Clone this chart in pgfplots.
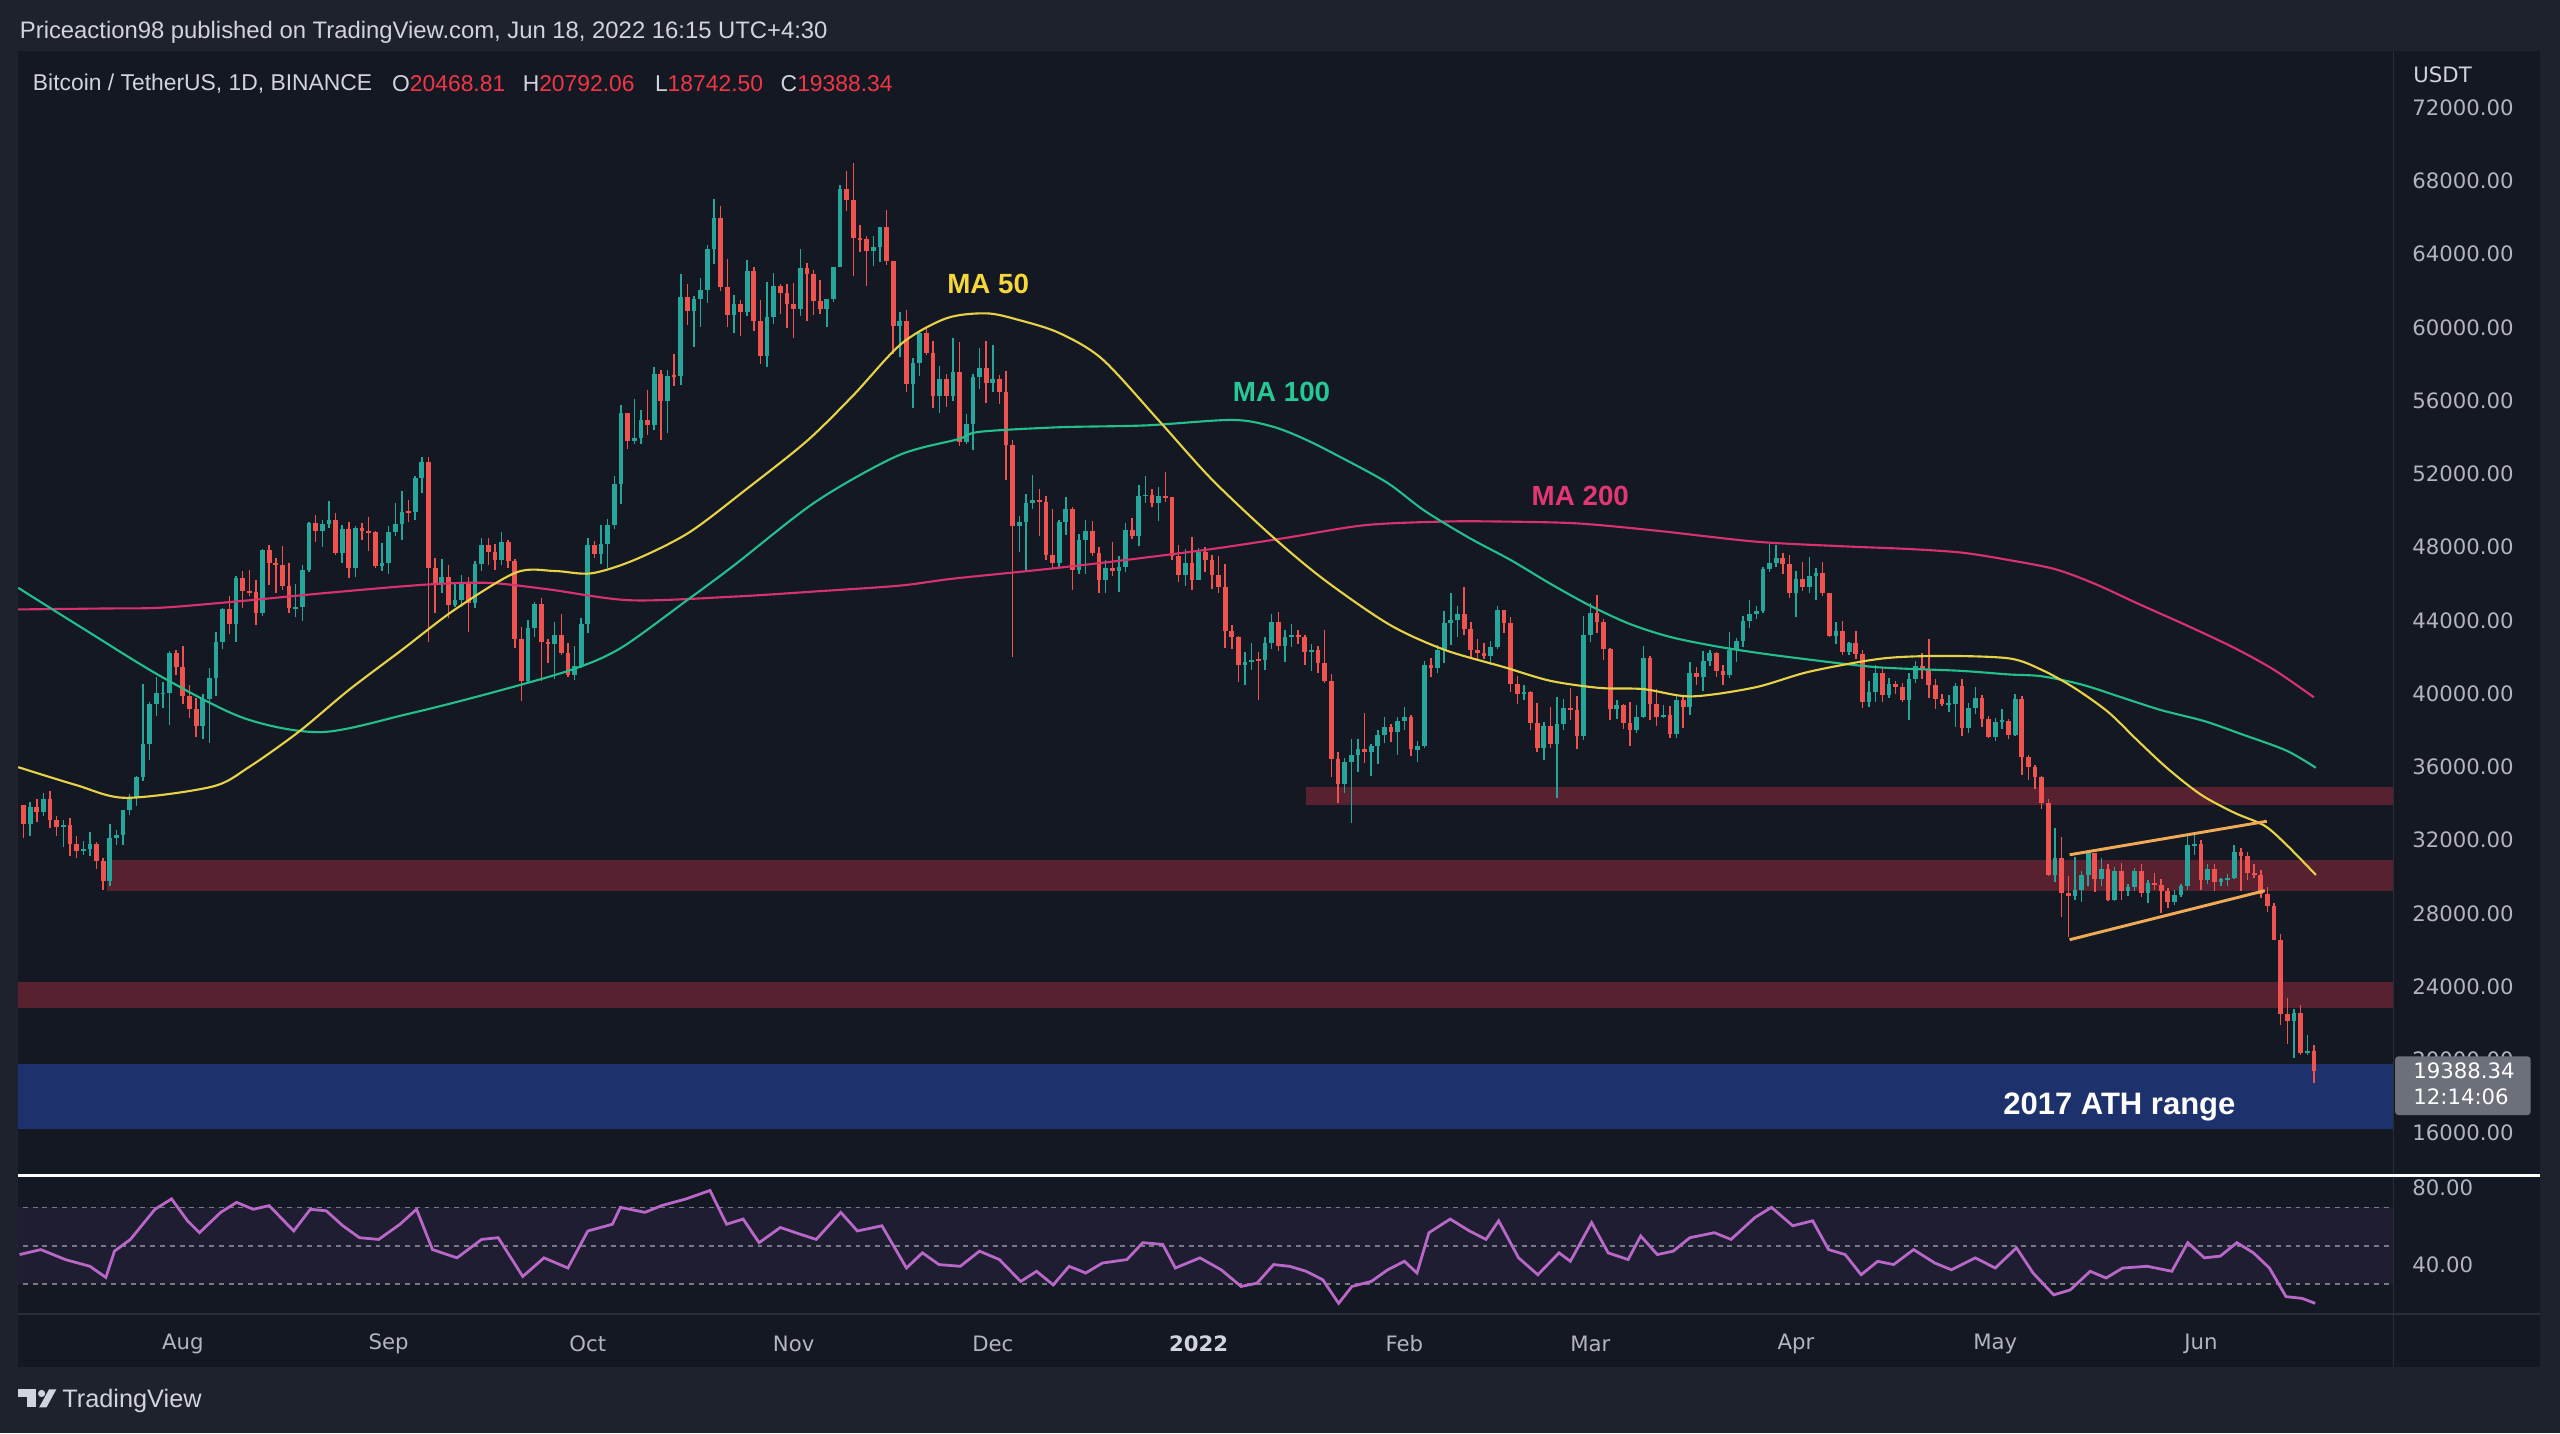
\documentclass[border=0pt]{standalone}
\usepackage{fontspec}
\setmainfont{Liberation Sans}
\newfontfamily\dv{DejaVu Sans}
\usepackage{pgfplots}
\usepackage{pgfplotstable}
\pgfplotsset{compat=1.18}
\newcommand\fs[1]{\fontsize{#1}{#1}\selectfont}

\definecolor{outerbg}{RGB}{30,34,45}
\definecolor{panelbg}{RGB}{20,24,35}
\definecolor{border}{RGB}{42,46,57}
\definecolor{tvtext}{RGB}{209,212,220}
\definecolor{tvtick}{RGB}{178,181,190}
\definecolor{tvred}{RGB}{242,54,69}
\definecolor{upc}{RGB}{38,166,154}
\definecolor{downc}{RGB}{239,83,80}
\definecolor{ma50c}{RGB}{230,210,70}
\definecolor{ma100c}{RGB}{36,190,140}
\definecolor{ma200c}{RGB}{215,50,110}
\definecolor{ma50t}{RGB}{245,215,60}
\definecolor{ma100t}{RGB}{40,200,150}
\definecolor{ma200t}{RGB}{225,55,115}
\definecolor{zonered}{RGB}{88,33,48}
\definecolor{zoneblue}{RGB}{29,50,108}
\definecolor{chan}{RGB}{240,170,85}
\definecolor{rsic}{RGB}{186,104,200}
\definecolor{rsiband}{RGB}{30,29,50}
\definecolor{rsidash}{RGB}{120,123,134}
\definecolor{pricebox}{RGB}{108,112,123}

% BTCUSDT daily, day 0 = 1 Aug 2021
\pgfplotstableread{
d o h l c
-24 33900 33920 32100 32880
-23 32880 34100 32250 33810
-22 33810 34260 33000 33510
-21 33510 34590 33300 34260
-20 34260 34680 32660 33090
-19 33090 33340 32200 32730
-18 32730 33110 31600 32820
-17 32820 33190 31130 31780
-16 31780 32250 31020 31390
-15 31390 31950 31170 31530
-14 31530 32430 31110 31780
-13 31780 31900 30400 30840
-12 30840 31050 29280 29790
-11 29790 32860 29480 32140
-10 32140 32580 31710 32290
-9 32290 33650 31760 33650
-8 33650 34500 33400 34280
-7 34280 35500 33880 35430
-6 35430 40550 35250 37270
-5 37270 39540 36400 39460
-4 39460 40900 38770 40010
-3 40010 40620 39200 40020
-2 40020 42320 38310 42240
-1 42240 42410 41000 41460
0 41460 42600 39420 39850
1 39850 40460 38690 39150
2 39150 39780 37640 38210
3 38210 39970 37510 39720
4 39720 41400 37330 40870
5 40870 43390 39850 42830
6 42830 44700 42450 44610
7 44610 45310 43260 43830
8 43830 46450 42840 46290
9 46290 46700 44700 45590
10 45590 46780 45350 45550
11 45550 46220 43770 44430
12 44430 47890 44250 47830
13 47830 48140 45950 47110
14 47110 47400 45520 47010
15 47010 48050 45660 45900
16 45900 47160 44380 44690
17 44690 46000 44200 44710
18 44710 47050 43950 46760
19 46760 49380 46620 49320
20 49320 49760 48280 48870
21 48870 49500 48000 49290
22 49290 50500 49030 49510
23 49510 49880 47600 47700
24 47700 49230 47120 48970
25 48970 49380 46320 46870
26 46870 49180 46360 49070
27 49070 49300 48370 48900
28 48900 49650 47800 48810
29 48810 48910 46850 46990
30 46990 48250 46700 47130
31 47130 49150 46510 48830
32 48830 50400 48630 49270
33 49270 51050 48400 49940
34 49940 50560 49380 49910
35 49910 51900 49500 51760
36 51760 52920 50970 52660
37 52660 52950 42840 46860
38 46860 47400 44410 46070
39 46070 47350 45510 46370
40 46370 47050 44130 44850
41 44850 45990 44720 45140
42 45140 46460 44740 46060
43 46060 46350 43370 44960
44 44960 47250 44680 47100
45 47100 48480 46720 48130
46 48130 48500 47050 47750
47 47750 48160 46750 47300
48 47300 48840 47040 48310
49 48310 48380 46850 47250
50 47250 47350 42500 43010
51 43010 43640 39600 40690
52 40690 44000 40570 43560
53 43560 44980 43100 44870
54 44870 45200 40680 42830
55 42830 42990 41650 42700
56 42700 43920 40800 43190
57 43190 44350 42100 42240
58 42240 42790 40920 41030
59 41030 42630 40750 41520
60 41520 44130 41410 43820
61 43820 48500 43290 48140
62 48140 48360 47430 47650
63 47650 49230 47100 48200
64 48200 49530 46890 49220
65 49220 51890 49000 51470
66 51470 55750 50380 55320
67 55320 55330 53360 53790
68 53790 56100 53620 53950
69 53950 55490 53660 54950
70 54950 56560 54110 54660
71 54660 57840 54420 57470
72 57470 57680 53880 56000
73 56000 57700 54250 57370
74 57370 58530 56820 57350
75 57350 62930 56850 61670
76 61670 62380 60150 60880
77 60880 61720 58960 61530
78 61530 62700 60000 62040
79 62040 64490 61320 64260
80 64260 67000 63480 65990
81 65990 66640 62000 62210
82 62210 63730 60000 60690
83 60690 61750 59680 61290
84 61290 61490 59510 60850
85 60850 63710 60650 63080
86 63080 63290 59820 60330
87 60330 61500 58000 58460
88 58460 62500 57820 60590
89 60590 62980 60170 62270
90 62270 62360 60720 61890
91 61890 62400 59950 61300
92 61300 62440 59400 61000
93 61000 64270 60620 63230
94 63230 63520 60380 62940
95 62940 63120 60680 61450
96 61450 62600 60720 61010
97 61010 61580 60050 61530
98 61530 63290 61370 63300
99 63300 67790 63290 67550
100 67550 68530 66380 66940
101 66940 69000 62820 64880
102 64880 65600 64100 64810
103 64810 65000 62250 64160
104 64160 64990 63360 64400
105 64400 65500 63580 65500
106 65500 66400 63400 63610
107 63610 63620 58570 60060
108 60060 60840 58370 60340
109 60340 60980 56470 56890
110 56890 58350 55600 58050
111 58050 59850 57350 59710
112 59710 60050 58470 58620
113 58620 59270 55610 56250
114 56250 57880 55320 57170
115 57170 57440 55660 56280
116 56280 59400 56000 57570
117 57570 59180 53500 53740
118 53740 55300 53610 54720
119 54720 57450 53330 57270
120 57270 58870 56660 57810
121 57810 59250 55880 56950
122 56950 59050 56460 57180
123 57180 57380 55840 56480
124 56480 57600 51680 53600
125 53600 53860 42000 49150
126 49150 49700 47730 49400
127 49400 50930 46750 50440
128 50440 51940 50060 50580
129 50580 51200 48600 50470
130 50470 50800 47320 47550
131 47550 50100 46850 47140
132 47140 49490 46930 49380
133 49380 50720 48650 50100
134 50100 50200 45670 46740
135 46740 48700 46550 48380
136 48380 49500 46550 48890
137 48890 49430 47540 47670
138 47670 48000 45500 46200
139 46200 47310 45520 46880
140 46880 48300 46400 46680
141 46680 47540 45560 46900
142 46900 49330 46630 48940
143 48940 49580 48420 48630
144 48630 51380 48050 50820
145 50820 51870 50410 50840
146 50840 51160 50190 50430
147 50430 51280 49410 50800
148 50800 52090 50450 50720
149 50720 50720 47310 47540
150 47540 48140 46100 46460
151 46460 47900 45900 47120
152 47120 48550 45680 46220
153 46220 47950 46210 47720
154 47720 47990 46650 47290
155 47290 47570 45700 46460
156 46460 47510 45500 45830
157 45830 47070 42500 43430
158 43430 43750 42420 43100
159 43100 43140 40610 41560
160 41560 42300 40500 41730
161 41730 42790 41270 41860
162 41860 42250 39650 41820
163 41820 43100 41270 42740
164 42740 44350 42450 43920
165 43920 44460 42310 42590
166 42590 43460 41730 43100
167 43100 43800 42570 43180
168 43180 43480 42690 43110
169 43110 43190 41540 42250
170 42250 42700 41250 42370
171 42370 42580 41140 41680
172 41680 43500 40570 40680
173 40680 41100 35440 36450
174 36450 36840 34010 35070
175 35070 36500 34600 36280
176 36280 37550 32930 36660
177 36660 37550 35700 36960
178 36960 38920 36230 36810
179 36810 37230 35510 37160
180 37160 38000 36160 37720
181 37720 38720 37300 38170
182 38170 38360 37350 37920
183 37920 38740 36630 38480
184 38480 39270 38020 38740
185 38740 38860 36590 36950
186 36950 37390 36250 37150
187 37150 41770 37030 41570
188 41570 41940 40920 41380
189 41380 42660 41120 42410
190 42410 44500 41660 43840
191 43840 45490 42670 44040
192 44040 44800 43110 44370
193 44370 45820 43200 43510
194 43510 43920 42000 42370
195 42370 43000 41770 42210
196 42210 42760 41870 42060
197 42060 42870 41570 42540
198 42540 44770 42430 44570
199 44570 44580 43330 43880
200 43880 44200 40070 40520
201 40520 40960 39450 40000
202 40000 40450 39640 40100
203 40100 40150 38000 38380
204 38380 39490 36800 37020
205 37020 38440 36350 38240
206 38240 39270 37040 37250
207 37250 39840 34320 38330
208 38330 39730 38010 39210
209 39210 40300 38560 39110
210 39110 39880 37000 37700
211 37700 44230 37450 43190
212 43190 44950 42830 44420
213 44420 45400 43330 43920
214 43920 44100 41830 42450
215 42450 42520 38550 39150
216 39150 39650 38590 39400
217 39400 39440 38090 38420
218 38420 39550 37150 37990
219 37990 39360 37870 38740
220 38740 42600 38660 41940
221 41940 42050 38540 39440
222 39440 40240 38220 38730
223 38730 39360 38660 38810
224 38810 39300 37580 37780
225 37780 39950 37600 39670
226 39670 39890 38110 39280
227 39280 41720 38830 41110
228 41110 41480 40500 40920
229 40920 42330 40140 41760
230 41760 42400 41510 42200
231 42200 42300 40920 41260
232 41260 41540 40500 41000
233 41000 43360 40880 42360
234 42360 43020 41750 42890
235 42890 44220 42550 43960
236 43960 45100 43580 44350
237 44350 44810 44070 44500
238 44500 46900 44420 46820
239 46820 48190 46670 47130
240 47130 48100 46930 47430
241 47430 47700 46550 47060
242 47060 47600 45200 45510
243 45510 46720 44200 46280
244 46280 47210 45620 45810
245 45810 47440 45520 46410
246 46410 46890 45120 46580
247 46580 47200 45350 45500
248 45500 45510 43120 43170
249 43170 43900 42730 43440
250 43440 43970 42110 42250
251 42250 42800 42130 42750
252 42750 43420 41870 42160
253 42160 42410 39200 39530
254 39530 40690 39250 40070
255 40070 41560 39550 41150
256 41150 41470 39560 39940
257 39940 40860 39770 40550
258 40550 40710 40000 40380
259 40380 40600 39550 39680
260 39680 41140 38540 40800
261 40800 41760 40570 41490
262 41490 42200 40820 41360
263 41360 42980 39750 40480
264 40480 40800 39180 39710
265 39710 39990 39310 39450
266 39450 39930 39000 39450
267 39450 40600 38200 40430
268 40430 40800 37700 38120
269 38120 39470 37870 39240
270 39240 40370 38880 39740
271 39740 39930 38180 38600
272 38600 38800 37580 37630
273 37630 38680 37390 38470
274 38470 39170 38050 38520
275 38520 38640 37500 37720
276 37720 40000 37670 39690
277 39690 39850 35570 36550
278 36550 36650 35260 36010
279 36010 36130 34780 35470
280 35470 35500 33710 34040
281 34040 34240 30030 30080
282 30080 32660 29730 31010
283 31010 32160 27790 29100
284 29100 30030 26700 28930
285 28930 31080 28750 29290
286 29290 30330 28640 30100
287 30100 31420 29490 31300
288 31300 31320 29190 29860
289 29860 31000 29490 30420
290 30420 30690 28650 28720
291 28720 30540 28680 30300
292 30300 30770 28730 29200
293 29200 29620 28940 29430
294 29430 30470 29230 30290
295 30290 30670 28880 29100
296 29100 29830 28590 29650
297 29650 30220 29300 29540
298 29540 29850 28020 29200
299 29200 29380 28280 28630
300 28630 29260 28450 29030
301 29030 29580 28870 29470
302 29470 32220 29300 31720
303 31720 32400 31200 31790
304 31790 31980 29300 29800
305 29800 30690 29580 30450
306 30450 30680 29240 29700
307 29700 29950 29470 29860
308 29860 30170 29520 29910
309 29910 31760 29880 31370
310 31370 31550 29220 31130
311 31130 31330 29840 30200
312 30200 30700 29940 30110
313 30110 30380 28850 29080
314 29080 29440 28100 28420
315 28420 28550 26560 26570
316 26570 26900 21900 22490
317 22490 23360 20850 22140
318 22140 22800 20080 22580
319 22580 22980 20250 20380
320 20380 21360 20250 20470
321 20468.81 20792.06 18742.50 19388.34
}\ohlc

\pgfplotsset{
  candle/.style={draw=none, mark=none, forget plot,
    error bars/.cd, y dir=both, y explicit, error mark=none,
    error bar style={#1}},
  upday/.style={restrict expr to domain={\thisrow{c}-\thisrow{o}}{0:1000000}},
  downday/.style={restrict expr to domain={\thisrow{c}-\thisrow{o}}{-1000000:-0.001}},
  tvaxis/.style={scale only axis, anchor=south west, width=1455pt,
    xmin=-24.84, xmax=333, axis line style={draw=none},
    major tick length=0pt, clip=true,
    yticklabel pos=right, scaled y ticks=false,
    ticklabel style={font=\dv\fs{13}, text=tvtick},
    yticklabel style={anchor=west, xshift=8pt,
      /pgf/number format/.cd, fixed, fixed zerofill, precision=2,
      1000 sep={}, assume math mode=true}},
}

\begin{document}
\begin{tikzpicture}[x=1pt,y=1pt]
% frame
\fill[outerbg] (0,0) rectangle (1568,878);
\fill[panelbg] (11,41) rectangle (1556,847);

% price pane
\begin{axis}[tvaxis, at={(11pt,158pt)}, height=688pt,
  ymin=13683, ymax=75032, xtick=\empty,
  ytick={16000,20000,...,72000}]
  % zones
  \fill[zonered] (axis cs:-11.5,29200) rectangle (axis cs:340,30900);
  \fill[zonered] (axis cs:169.2,33900) rectangle (axis cs:340,34900);
  \fill[zonered] (axis cs:-30,22850) rectangle (axis cs:340,24250);
  \fill[zoneblue] (axis cs:-30,16200) rectangle (axis cs:340,19750);
  % wicks
  \addplot[upday, candle={draw=upc, line width=0.9pt}]
    table[x=d, y expr={(\thisrow{h}+\thisrow{l})/2},
      y error expr={(\thisrow{h}-\thisrow{l})/2}] {\ohlc};
  \addplot[downday, candle={draw=downc, line width=0.9pt}]
    table[x=d, y expr={(\thisrow{h}+\thisrow{l})/2},
      y error expr={(\thisrow{h}-\thisrow{l})/2}] {\ohlc};
  % bodies
  \addplot[upday, candle={draw=upc, line width=2.9pt}]
    table[x=d, y expr={(\thisrow{o}+\thisrow{c})/2},
      y error expr={max(abs(\thisrow{c}-\thisrow{o})/2,45)}] {\ohlc};
  \addplot[downday, candle={draw=downc, line width=2.9pt}]
    table[x=d, y expr={(\thisrow{o}+\thisrow{c})/2},
      y error expr={max(abs(\thisrow{c}-\thisrow{o})/2,45)}] {\ohlc};
  % moving averages
  \addplot[ma200c, line width=1.3pt, smooth] coordinates {
    (-24.8,44600) (-12,44650) (-3,44700) (10,45100) (21.6,45500) (36.4,45950)
    (46,46050) (55,45700) (67.4,45100) (83,45300) (96,45600) (108,45900)
    (116,46280) (130,46800) (142,47300) (155,47900) (166,48500) (178,49200)
    (190,49400) (198.5,49400) (210,49300) (222,48900) (237,48300) (250,48050)
    (260,47900) (268,47700) (275,47300) (282,46800) (288,46000) (294.6,44900)
    (302,43700) (309,42500) (315,41300) (321,39800)};
  \addplot[ma100c, line width=1.3pt, smooth] coordinates {
    (-24.8,45780) (-15,43550) (-3,40880) (9.3,38650) (20.9,37900) (34,38900)
    (46,40000) (58.5,41300) (66,42500) (76.2,45170) (83,47000) (95.4,50500)
    (107.7,53000) (116.8,53900) (120,54300) (132,54550) (145,54650) (158,54950)
    (164,54600) (169,53900) (175,52800) (181.5,51500) (187,50000) (193.8,48500)
    (200,47300) (206,46000) (212,44800) (218,43800) (224,43100) (230.7,42600)
    (236.8,42250) (243,41950) (255,41450) (267.6,41250) (275,41050) (280,40950)
    (286,40500) (292,39800) (298,39100) (304.5,38500) (310,37800) (316.8,36900)
    (321.3,35950)};
  \addplot[ma50c, line width=1.3pt, smooth] coordinates {
    (-24.8,35985) (-16,35000) (-8.6,34310) (4.4,34920) (10,36000) (17.5,37930)
    (25,40200) (33,42390) (41,44600) (50.2,46620) (56,46700) (61.5,46570)
    (68,47300) (76.2,48790) (85,51200) (94,53800) (101,56300) (108.2,59100)
    (115,60500) (121.1,60770) (126,60400) (132,59700) (138.5,58270) (147,54920)
    (155,51700) (164.3,48520) (172,46200) (181.7,43780) (190,42400) (199,41450)
    (206,40700) (213.5,40310) (220,40250) (227.2,39850) (236.8,40340) (245,41200)
    (256,41920) (265.6,42060) (275.2,41920) (280,41300) (284.8,40340) (290,39000)
    (294.5,37420) (299,35900) (304,34480) (309,33500) (313.6,32780) (317,31700)
    (321.3,30100)};
  % channel
  \addplot[chan, line width=1.8pt] coordinates {(284.2,31200) (313.9,33030)};
  \addplot[chan, line width=1.8pt] coordinates {(284.2,26560) (313.6,29240)};
  % labels
  \node[text=ma50t, font=\bfseries\fs{17}] at (axis cs:121.3,62370) {MA 50};
  \node[text=ma100t, font=\bfseries\fs{17}] at (axis cs:165.5,56480) {MA 100};
  \node[text=ma200t, font=\bfseries\fs{17}] at (axis cs:210.5,50780) {MA 200};
  \node[text=white, font=\bfseries\fs{19}] at (axis cs:291.7,17450) {2017 ATH range};
\end{axis}

% RSI pane
\begin{axis}[tvaxis, at={(11pt,73pt)}, height=85pt,
  ymin=14.3, ymax=86.6, ytick={40,80},
  xtick={0,31,61,92,122,153,184,212,243,273,304},
  xticklabels={Aug,Sep,Oct,Nov,Dec,{\textcolor{tvtext}{\bfseries 2022}},Feb,Mar,Apr,May,Jun},
  xticklabel style={anchor=center, yshift=-18pt}]
  \fill[rsiband] (axis cs:-30,30) rectangle (axis cs:340,70);
  \draw[rsidash, line width=1pt, dash pattern=on 3pt off 3pt]
    (axis cs:-30,70) -- (axis cs:340,70)
    (axis cs:-30,50) -- (axis cs:340,50)
    (axis cs:-30,30) -- (axis cs:340,30);
  \addplot[rsic, line width=1.7pt] coordinates {
    (-24.6,45.4) (-21.4,48) (-17.7,42.8) (-14.0,39.3) (-11.6,33.5) (-10.3,47.2)
    (-7.9,53.3) (-4.2,69) (-1.7,74.4) (0.7,63) (2.5,56.8) (5.7,67.4) (8.1,72.6)
    (10.6,69) (13.0,70.9) (16.7,57.7) (19.2,69) (21.6,68.2) (24.1,60.4)
    (26.6,54.2) (29.5,53.3) (32.7,61.2) (35.2,69) (37.6,48) (41.3,43.7)
    (45.0,53.3) (47.5,54.2) (51.2,34) (54.4,43.7) (58.0,38.4) (61.0,57.7)
    (64.7,61.2) (65.9,70) (69.6,67.4) (72.1,70.9) (75.8,74.4) (79.4,78.8)
    (81.9,61.2) (84.4,63.9) (86.8,51.6) (90.0,59.5) (93.0,56) (95.4,53.3)
    (99.1,67.4) (101.6,57.7) (105.3,60.4) (109.0,38.4) (111.4,46.3) (113.9,40.2)
    (117.1,39.3) (120.0,47.2) (123.0,42.8) (126.2,31.4) (128.6,36.7) (131.1,29.6)
    (133.5,39.3) (136.0,35.8) (138.5,41) (142.2,42.8) (144.6,51.6) (147.6,50.7)
    (149.5,38.4) (153.2,43.7) (156.4,37.5) (159.4,28.8) (161.8,30.5) (164.3,40.2)
    (166.7,39.3) (169.2,36.7) (171.7,32.3) (174.1,20) (176.1,28.8) (179.0,31.4)
    (181.5,37.5) (184.0,41.9) (185.9,35.8) (187.7,56.8) (190.9,63.9) (193.8,57.7)
    (196.3,53.3) (198.2,63) (201.2,43.7) (204.1,34.9) (207.3,46.3) (209.0,41.9)
    (212.2,62.1) (214.7,46.3) (217.7,42.8) (219.6,55.1) (222.1,45.4) (224.5,47.2)
    (227.0,54.2) (230.7,56.8) (233.2,53.3) (236.8,64.7) (239.3,70) (242.5,60.4)
    (245.5,63) (247.9,48) (250.4,45.4) (252.8,34.9) (255.3,41.9) (257.7,40.2)
    (260.7,48) (263.9,41) (266.4,37.5) (270.0,43.7) (273.0,38.4) (276.2,48.9)
    (278.7,35.8) (281.8,24.4) (284.3,27) (287.3,36.7) (289.7,33.2) (292.2,38.4)
    (295.9,39.3) (299.6,36.7) (302.0,51.6) (304.5,43.7) (306.9,44.6) (309.4,51.6)
    (311.9,46.3) (314.3,38.4) (316.8,23.5) (319.2,22.6) (321.2,20)};
\end{axis}

% pane borders
\draw[border, line width=1pt] (1466,41) -- (1466,847);
\draw[border, line width=1pt] (11,73) -- (1556,73);
\draw[white, line width=1.6pt] (11,158) -- (1556,158);

% last price label
\fill[pricebox, rounded corners=2pt] (1467,195) rectangle (1550,231);
\node[anchor=west, inner sep=0, text=white, font=\dv\fs{13}] at (1478,222) {19388.34};
\node[anchor=west, inner sep=0, text=white, font=\dv\fs{13}] at (1478,206) {12:14:06};
\node[anchor=west, inner sep=0, text=tvtext, font=\dv\fs{13}] at (1478,832) {USDT};

% header and legend
\node[anchor=west, inner sep=0, text=tvtext, font=\fs{14.6}] at (12,858)
  {Priceaction98 published on TradingView.com, Jun 18, 2022 16:15 UTC+4:30};
\node[anchor=west, inner sep=0, text=tvtext, font=\fs{14}] at (20,827)
  {Bitcoin / TetherUS, 1D, BINANCE};
\node[anchor=west, inner sep=0, text=tvtext, font=\fs{14}] at (240,827) {O\textcolor{tvred}{20468.81}};
\node[anchor=west, inner sep=0, text=tvtext, font=\fs{14}] at (320,827) {H\textcolor{tvred}{20792.06}};
\node[anchor=west, inner sep=0, text=tvtext, font=\fs{14}] at (401,827) {L\textcolor{tvred}{18742.50}};
\node[anchor=west, inner sep=0, text=tvtext, font=\fs{14}] at (478,827) {C\textcolor{tvred}{19388.34}};

% TradingView logo
\fill[tvtext] (11,27) rectangle (22,22.5);
\fill[tvtext] (16.5,22.5) rectangle (22,16);
\fill[tvtext] (25.5,24.5) circle (2.2);
\fill[tvtext] (24,16) -- (28.5,16) -- (34.5,27) -- (30,27) -- cycle;
\node[anchor=base west, inner sep=0, text=tvtext, font=\fs{15.5}] at (38,16) {TradingView};
\end{tikzpicture}
\end{document}
